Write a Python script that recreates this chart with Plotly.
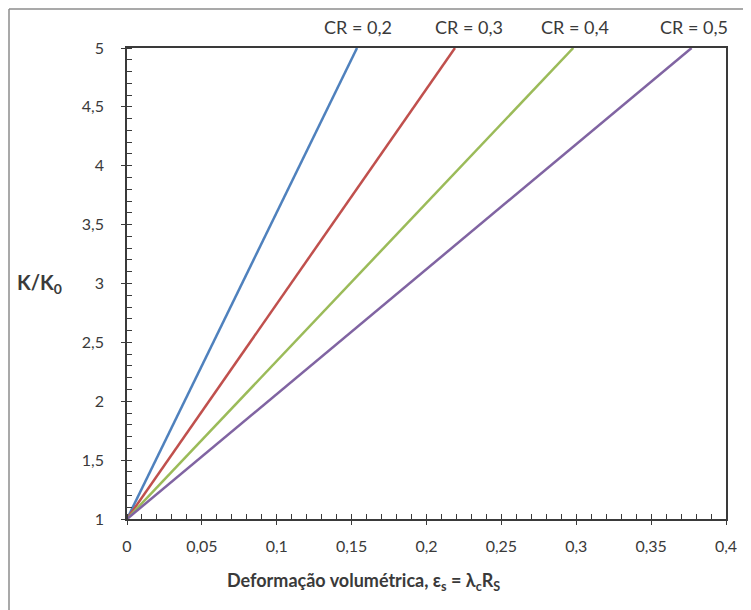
import plotly.graph_objects as go

# Data
cr_labels = ["CR = 0,2", "CR = 0,3", "CR = 0,4", "CR = 0,5"]
eps_start = [0.0, 0.0, 0.0, 0.0]
eps_end = [0.1536, 0.219, 0.298, 0.377]
k_start = [1.0, 1.0, 1.0, 1.0]
k_end = [5.0, 5.0, 5.0, 5.0]
colors = ["#4F81BD", "#C0504D", "#9BBB59", "#8064A2"]
label_shift = [1, 14, 2, 2]

x_ticks = [0, 0.05, 0.1, 0.15, 0.2, 0.25, 0.3, 0.35, 0.4]
x_tick_text = ["0", "0,05", "0,1", "0,15", "0,2", "0,25", "0,3", "0,35", "0,4"]
y_ticks = [1, 1.5, 2, 2.5, 3, 3.5, 4, 4.5, 5]
y_tick_text = ["1", "1,5", "2", "2,5", "3", "3,5", "4", "4,5", "5"]

FONT = "Lato, 'Open Sans', sans-serif"
TXT = "#3a3a3a"

# page offset (browser body margin)
OFF = 8
W, H = 751, 610
# target plot area in screen pixels
SX0, SX1, SY0, SY1 = 127, 726, 48, 519
L, T = SX0 - OFF, SY0 - OFF
R, B = W - (SX1 - OFF), H - (SY1 - OFF)
pw, ph = SX1 - SX0, SY1 - SY0

def px(xs):
    return (xs - SX0) / pw

def py(ys):
    return (SY1 - ys) / ph

fig = go.Figure()
for i, lab in enumerate(cr_labels):
    fig.add_trace(go.Scatter(
        x=[eps_start[i], eps_end[i]], y=[k_start[i], k_end[i]],
        mode="lines", line=dict(color=colors[i], width=2.5),
        name=lab, showlegend=False, hoverinfo="skip"))
    fig.add_annotation(
        x=eps_end[i], y=py(27), xref="x", yref="paper", yanchor="middle",
        text=lab, showarrow=False, xshift=label_shift[i],
        font=dict(family=FONT, size=18, color=TXT))

# axis titles
fig.add_annotation(x=px(15), y=py(283), xref="paper", yref="paper",
                   xanchor="left", yanchor="middle", showarrow=False,
                   text="<b>K/K<sub>0</sub></b>",
                   font=dict(family=FONT, size=20, color=TXT))
fig.add_annotation(x=px(363), y=py(581), xref="paper", yref="paper",
                   xanchor="center", yanchor="middle", showarrow=False,
                   text="<b>Deformação volumétrica, ε<sub>s</sub> = λ<sub>c</sub>R<sub>S</sub></b>",
                   font=dict(family=FONT, size=18, color=TXT))

# outer chart border (left and top visible)
border = dict(color="#8c8c8c", width=1.5)
fig.add_shape(type="line", xref="paper", yref="paper",
              x0=px(9), y0=py(9), x1=px(9), y1=py(660), line=border)
fig.add_shape(type="line", xref="paper", yref="paper",
              x0=px(9), y0=py(9), x1=px(820), y1=py(9), line=border)

axis_common = dict(showgrid=False, zeroline=False, showline=True,
                   linecolor="#3a3a3a", linewidth=1.5, mirror=True,
                   ticks="outside", ticklen=4, tickcolor="#3a3a3a",
                   tickwidth=1.3,
                   tickfont=dict(family=FONT, size=16, color=TXT))

fig.update_xaxes(range=[0, 0.4], tickmode="array", tickvals=x_ticks,
                 ticktext=x_tick_text, ticklabelstandoff=8,
                 minor=dict(dtick=0.01, ticks="inside", ticklen=5,
                            tickcolor="#3a3a3a", showgrid=False),
                 **axis_common)
fig.update_yaxes(range=[1, 5], tickmode="array", tickvals=y_ticks,
                 ticktext=y_tick_text, ticklabelstandoff=14,
                 minor=dict(dtick=0.1, ticks="inside", ticklen=5,
                            tickcolor="#3a3a3a", showgrid=False),
                 **axis_common)

fig.update_layout(width=W, height=H,
                  margin=dict(l=L, r=R, t=T, b=B, autoexpand=False),
                  paper_bgcolor="white", plot_bgcolor="white",
                  font=dict(family=FONT, color=TXT))

fig.write_html("out.html")
